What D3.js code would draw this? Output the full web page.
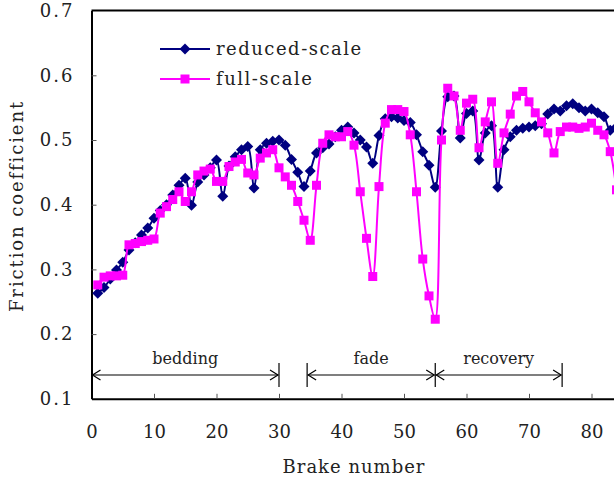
<!DOCTYPE html>
<html lang="en">
<head>
    <meta charset="UTF-8">
    <title>Friction coefficient vs brake number</title>
    <script src="https://d3js.org/d3.v7.min.js"></script>
    <style>
        body { margin: 0; background: #fff; }
    </style>
</head>
<body>
<script>
    const width = 614
    const height = 482

    // friction coefficient for each brake, brake numbers 1, 2, 3 ...
    const reducedScale = [
        0.263, 0.272, 0.285, 0.299, 0.311, 0.330, 0.341, 0.353, 0.364, 0.379,
        0.391, 0.400, 0.415, 0.430, 0.441, 0.399, 0.435, 0.446, 0.457, 0.469,
        0.413, 0.460, 0.474, 0.485, 0.490, 0.426, 0.485, 0.495, 0.498, 0.500,
        0.492, 0.470, 0.450, 0.428, 0.452, 0.480, 0.488, 0.494, 0.505, 0.515,
        0.520, 0.511, 0.500, 0.489, 0.464, 0.507, 0.533, 0.536, 0.534, 0.530,
        0.527, 0.508, 0.482, 0.461, 0.427, 0.514, 0.567, 0.568, 0.503, 0.541,
        0.545, 0.469, 0.511, 0.522, 0.427, 0.485, 0.505, 0.515, 0.518, 0.520,
        0.522, 0.525, 0.540, 0.548, 0.545, 0.553, 0.556, 0.550, 0.545, 0.548,
        0.542, 0.536, 0.515, 0.520
    ]
    const fullScale = [
        0.276, 0.288, 0.290, 0.290, 0.291, 0.338, 0.340, 0.343, 0.345, 0.347,
        0.387, 0.397, 0.408, 0.420, 0.405, 0.420, 0.446, 0.452, 0.455, 0.436,
        0.436, 0.459, 0.466, 0.470, 0.449, 0.446, 0.472, 0.480, 0.485, 0.457,
        0.443, 0.430, 0.405, 0.376, 0.345, 0.430, 0.495, 0.508, 0.505, 0.505,
        0.513, 0.492, 0.420, 0.348, 0.289, 0.428, 0.526, 0.547, 0.547, 0.544,
        0.508, 0.420, 0.316, 0.259, 0.223, 0.500, 0.580, 0.568, 0.515, 0.557,
        0.563, 0.488, 0.528, 0.559, 0.464, 0.511, 0.540, 0.568, 0.575, 0.559,
        0.542, 0.528, 0.511, 0.480, 0.513, 0.520, 0.520, 0.518, 0.520, 0.526,
        0.515, 0.508, 0.482, 0.423
    ]
    const xTicks = [0, 10, 20, 30, 40, 50, 60, 70, 80]
    const yTicks = [0.1, 0.2, 0.3, 0.4, 0.5, 0.6, 0.7]
    const stages = [
        {name: "bedding", from: 0, to: 30},
        {name: "fade", from: 34.5, to: 55},
        {name: "recovery", from: 55, to: 75.3}
    ]

    const serif = "DejaVu Serif"

    let svg = d3.select("body").append("svg")
        .attr("width", width)
        .attr("height", height)
        .style("font-family", serif)

    const x = d3.scaleLinear().domain([0, 90]).range([91.5, 654])
    const y = d3.scaleLinear().domain([0.1, 0.7]).range([398.8, 10.6])

    // axes, ticks pointing inward
    let gx = svg.append("g")
        .attr("transform", `translate(0,${y(0.1)})`)
        .call(d3.axisBottom(x).tickValues(xTicks).tickSizeInner(-5).tickSizeOuter(0).tickPadding(26))
    let gy = svg.append("g")
        .attr("transform", `translate(${x(0)},0)`)
        .call(d3.axisLeft(y).tickValues(yTicks).tickFormat(d3.format(".1f"))
            .tickSizeInner(-5).tickSizeOuter(0).tickPadding(17))
    gy.selectAll(".tick").filter(d => d === 0.1 || d === 0.7).select("line").remove()
    ;[gx, gy].forEach(g => {
        g.attr("font-family", null)
        g.select(".domain").attr("stroke", "#000").attr("stroke-width", 2)
        g.selectAll(".tick line").attr("stroke", "#555")
        g.selectAll("text").attr("font-size", 18).attr("letter-spacing", 2).attr("fill", "#222")
    })
    gx.selectAll("text").attr("letter-spacing", 0)

    svg.append("line")
        .attr("x1", x(0)).attr("x2", width)
        .attr("y1", y(0.7)).attr("y2", y(0.7))
        .attr("stroke", "#000").attr("stroke-width", 2)

    // axis titles
    svg.append("text")
        .attr("x", x(42)).attr("y", 473)
        .attr("text-anchor", "middle")
        .attr("font-size", 18).attr("letter-spacing", 1)
        .attr("fill", "#222")
        .text("Brake number")
    svg.append("text")
        .attr("transform", `translate(23,206) rotate(-90)`)
        .attr("text-anchor", "middle")
        .attr("font-size", 18).attr("letter-spacing", 1.9)
        .attr("fill", "#222")
        .text("Friction coefficient")

    // test stages
    const arrowY = 375
    let gStage = svg.append("g").attr("stroke", "#000").attr("stroke-width", 1.2).attr("fill", "none")
    const bars = [...new Set(stages.flatMap(s => [s.from, s.to]))].filter(v => v > 0)
    gStage.selectAll(".bar").data(bars).enter().append("line")
        .attr("x1", d => x(d)).attr("x2", d => x(d))
        .attr("y1", arrowY - 12).attr("y2", arrowY + 12)
    stages.forEach(s => {
        const a = x(s.from) + 1, b = x(s.to) - 1
        gStage.append("line").attr("x1", a).attr("x2", b).attr("y1", arrowY).attr("y2", arrowY)
        gStage.append("path").attr("d", `M${a + 8},${arrowY - 5}L${a},${arrowY}L${a + 8},${arrowY + 5}`)
        gStage.append("path").attr("d", `M${b - 8},${arrowY - 5}L${b},${arrowY}L${b - 8},${arrowY + 5}`)
        svg.append("text")
            .attr("x", (x(s.from) + x(s.to)) / 2).attr("y", 364)
            .attr("text-anchor", "middle").attr("font-size", 16)
            .attr("fill", "#222")
            .text(s.name)
    })

    // series
    const series = [
        {name: "reduced-scale", values: reducedScale, color: "#000080", marker: "diamond"},
        {name: "full-scale", values: fullScale, color: "#FF00FF", marker: "square"}
    ]
    const line = d3.line()
        .x((d, i) => x(i + 1))
        .y(d => y(d))
        .curve(d3.curveCatmullRom.alpha(0.5))

    function drawMarker(g, type, color) {
        if (type === "diamond") {
            g.append("path").attr("d", "M0,-5.5L5.5,0L0,5.5L-5.5,0Z").attr("fill", color)
        } else {
            g.append("rect").attr("x", -4.5).attr("y", -4.5).attr("width", 9).attr("height", 9).attr("fill", color)
        }
    }

    series.forEach(s => {
        svg.append("path")
            .datum(s.values)
            .attr("d", line)
            .attr("fill", "none")
            .attr("stroke", s.color)
            .attr("stroke-width", 2)
        let gm = svg.append("g").selectAll("g")
            .data(s.values).enter().append("g")
            .attr("transform", (d, i) => `translate(${x(i + 1)},${y(d)})`)
        gm.each(function () { drawMarker(d3.select(this), s.marker, s.color) })
    })

    // legend
    let gLeg = svg.append("g")
    series.forEach((s, i) => {
        const ly = 49 + i * 30
        gLeg.append("line").attr("x1", 160).attr("x2", 210).attr("y1", ly).attr("y2", ly)
            .attr("stroke", s.color).attr("stroke-width", 2)
        let gm = gLeg.append("g").attr("transform", `translate(185,${ly})`)
        drawMarker(gm, s.marker, s.color)
        gLeg.append("text").attr("x", 216).attr("y", ly + 6)
            .attr("font-size", 18).attr("letter-spacing", 1.5)
            .attr("fill", "#222")
            .text(s.name)
    })
</script>
</body>
</html>
